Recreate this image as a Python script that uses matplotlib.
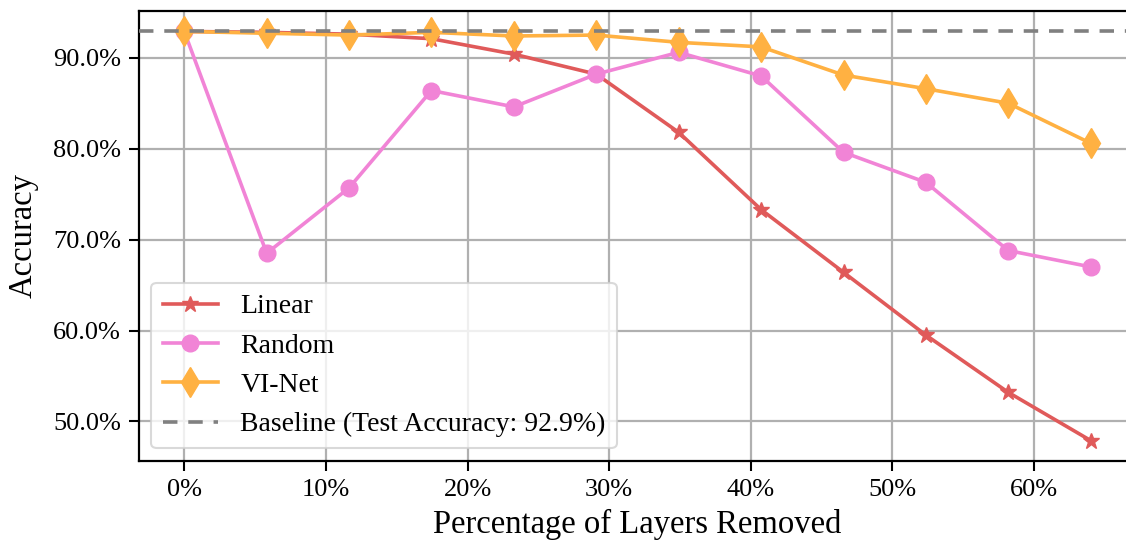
import numpy as np
import matplotlib
matplotlib.use("Agg")
import matplotlib.pyplot as plt
from matplotlib.ticker import PercentFormatter

# === DATA ===
layers_removed = [0.0, 5.82, 11.64, 17.45, 23.27, 29.09, 34.91, 40.73, 46.55, 52.36, 58.18, 64.0]
acc_linear = [92.9, 92.8, 92.6, 92.1, 90.4, 88.2, 81.8, 73.3, 66.4, 59.5, 53.2, 47.9]
acc_random = [92.9, 68.5, 75.7, 86.4, 84.6, 88.2, 90.6, 88.0, 79.6, 76.3, 68.8, 67.0]
acc_vinet = [92.9, 92.7, 92.5, 92.8, 92.4, 92.5, 91.7, 91.2, 88.1, 86.6, 85.0, 80.6]
baseline = 92.9

x_ticks = [0, 10, 20, 30, 40, 50, 60]
y_ticks = [50, 60, 70, 80, 90]


def main():
    plt.rcParams["font.family"] = ["Liberation Serif", "DejaVu Serif"]

    fig = plt.figure(figsize=(11.26, 5.46), dpi=100)
    # axes runs a bit past the right edge, like the cropped original
    ax = fig.add_axes([0.1234, 0.1557, 0.8855, 0.8242])

    ax.plot(layers_removed, acc_linear, marker="*", markersize=12, color="#e05a5a",
            linewidth=2.6, label="Linear", zorder=3)
    ax.plot(layers_removed, acc_random, marker="o", markersize=12, color="#f184d6",
            linewidth=2.6, label="Random", zorder=3)
    ax.plot(layers_removed, acc_vinet, marker="d", markersize=15, color="#ffb142",
            linewidth=2.6, label="VI-Net", zorder=3)
    ax.axhline(baseline, color="#808080", linestyle="--", linewidth=2.6, dashes=(4, 3),
               label=f"Baseline (Test Accuracy: {baseline}%)", zorder=4)

    ax.set_xticks(x_ticks)
    ax.set_yticks(y_ticks)
    ax.xaxis.set_major_formatter(PercentFormatter(decimals=0))
    ax.yaxis.set_major_formatter(PercentFormatter(decimals=1))
    ax.tick_params(labelsize=19, length=7, width=1.5, direction="out", pad=6)

    ax.set_xlabel("Percentage of Layers Removed", fontsize=23.5, labelpad=6)
    ax.set_ylabel("Accuracy", fontsize=23.5, labelpad=10)

    ax.grid(color="#b0b0b0", linewidth=1.6)
    ax.set_axisbelow(True)
    for side in ax.spines.values():
        side.set_linewidth(1.6)

    leg = ax.legend(loc="lower left", fontsize=20, framealpha=0.8, borderaxespad=0.45)
    leg.get_frame().set_linewidth(1.5)
    leg.get_frame().set_edgecolor("#d0d0d0")

    fig.savefig("out.png", dpi=100)


if __name__ == "__main__":
    main()
